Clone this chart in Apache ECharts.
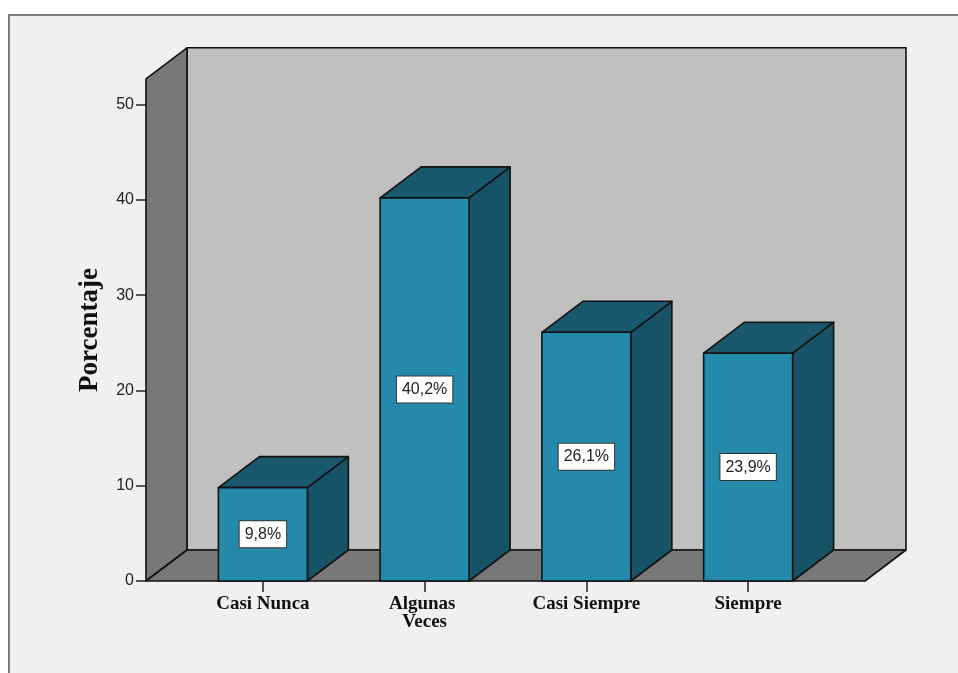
<!DOCTYPE html>
<html>
<head>
<meta charset="utf-8">
<script src="https://cdn.jsdelivr.net/npm/echarts@6/dist/echarts.min.js"></script>
<style>
  html, body { margin: 0; padding: 0; background: #ffffff; }
  #chart { width: 958px; height: 673px; }
</style>
</head>
<body>
<div id="chart"></div>
<script>
// Response categories and their percentages
const categories = ['Casi Nunca', 'Algunas Veces', 'Casi Siempre', 'Siempre'];
const percentages = [9.8, 40.2, 26.1, 23.9];

// Value axis
const axisMin = 0;
const axisMax = 50;
const axisInterval = 10;
const wallCeiling = 52.7;   // height of the 3D walls in axis units
const axisTitle = 'Porcentaje';

// 3D look
const depthX = 41;          // horizontal depth offset of the box, px
const depthY = 31;          // vertical depth offset of the box, px
const sideGap = 36;         // floor margin outside the category band, px
const barRatio = 0.55;      // bar width relative to category band

const frontColor = '#2489ab';
const topColor = '#1a586d';
const sideColor = '#175367';
const backWallColor = '#c0c0c0';
const sideWallColor = '#787878';
const edgeColor = '#111111';

const serif = '"Liberation Serif", "Times New Roman", serif';
const sans = '"Liberation Sans", Arial, sans-serif';

function fmtPercent(v) {
  return v.toFixed(1).replace('.', ',') + '%';
}

const chart = echarts.init(document.getElementById('chart'), null, { renderer: 'canvas' });

const edge = { stroke: edgeColor, lineWidth: 1.6, lineJoin: 'round' };

function renderWalls(params, api) {
  const cs = params.coordSys;
  const xL = cs.x - sideGap;
  const xR = cs.x + cs.width + sideGap;
  const yB = api.coord([0, 0])[1];
  const yT = api.coord([0, wallCeiling])[1];
  return {
    type: 'group',
    children: [
      {
        type: 'polygon',
        shape: { points: [[xL + depthX, yT - depthY], [xR + depthX, yT - depthY], [xR + depthX, yB - depthY], [xL + depthX, yB - depthY]] },
        style: Object.assign({ fill: backWallColor }, edge)
      },
      {
        type: 'polygon',
        shape: { points: [[xL, yT], [xL + depthX, yT - depthY], [xL + depthX, yB - depthY], [xL, yB]] },
        style: Object.assign({ fill: sideWallColor }, edge)
      },
      {
        type: 'polygon',
        shape: { points: [[xL, yB], [xL + depthX, yB - depthY], [xR + depthX, yB - depthY], [xR, yB]] },
        style: Object.assign({ fill: sideWallColor }, edge)
      }
    ]
  };
}

function renderBar(params, api) {
  const idx = api.value(0);
  const val = api.value(1);
  const top = api.coord([idx, val]);
  const base = api.coord([idx, 0]);
  const band = api.size([1, 0])[0];
  const w = band * barRatio;
  const x0 = top[0] - w / 2;
  const x1 = top[0] + w / 2;
  const yT = top[1];
  const yB = base[1];
  return {
    type: 'group',
    children: [
      {
        type: 'polygon',
        shape: { points: [[x1, yT], [x1 + depthX, yT - depthY], [x1 + depthX, yB - depthY], [x1, yB]] },
        style: Object.assign({ fill: sideColor }, edge)
      },
      {
        type: 'polygon',
        shape: { points: [[x0, yT], [x0 + depthX, yT - depthY], [x1 + depthX, yT - depthY], [x1, yT]] },
        style: Object.assign({ fill: topColor }, edge)
      },
      {
        type: 'rect',
        shape: { x: x0, y: yT, width: w, height: yB - yT },
        style: Object.assign({ fill: frontColor }, edge)
      },
      {
        type: 'text',
        x: top[0],
        y: (yT + yB) / 2,
        style: {
          text: fmtPercent(val),
          align: 'center',
          verticalAlign: 'middle',
          fontFamily: sans,
          fontSize: 16,
          lineHeight: 16,
          fill: '#222222',
          backgroundColor: '#ffffff',
          borderColor: '#333333',
          borderWidth: 1,
          padding: [5, 5, 5, 5]
        }
      }
    ]
  };
}

const option = {
  backgroundColor: '#ffffff',
  animation: false,
  graphic: [
    {
      type: 'rect',
      z: -10,
      shape: { x: 9, y: 15, width: 1000, height: 700 },
      style: { fill: '#f0f0f0', stroke: '#7c7c7c', lineWidth: 2 }
    },
    {
      type: 'text',
      x: 90,
      y: 330,
      rotation: Math.PI / 2,
      style: {
        text: axisTitle,
        align: 'center',
        verticalAlign: 'middle',
        fontFamily: serif,
        fontWeight: 'bold',
        fontSize: 27,
        fill: '#111111'
      }
    }
  ],
  grid: { left: 182, right: 129, top: 104.5, bottom: 92, containLabel: false },
  xAxis: {
    type: 'category',
    data: categories,
    boundaryGap: true,
    axisLine: { show: false },
    axisTick: { show: true, alignWithLabel: true, length: 11, lineStyle: { color: '#222', width: 1.5 } },
    axisLabel: {
      interval: 0,
      margin: 14,
      fontFamily: serif,
      fontWeight: 'bold',
      fontSize: 19,
      lineHeight: 18,
      color: '#111111',
      width: 112,
      overflow: 'break'
    },
    splitLine: { show: false }
  },
  yAxis: {
    type: 'value',
    min: axisMin,
    max: axisMax,
    interval: axisInterval,
    offset: sideGap,
    axisLine: { show: false },
    axisTick: { show: true, length: 10, lineStyle: { color: '#222', width: 1.5 } },
    axisLabel: { margin: 12, fontFamily: sans, fontSize: 16, color: '#222222' },
    splitLine: { show: false }
  },
  series: [
    {
      type: 'custom',
      clip: false,
      z: 1,
      renderItem: renderWalls,
      data: [[0, 0]]
    },
    {
      type: 'custom',
      clip: false,
      z: 2,
      renderItem: renderBar,
      encode: { x: 0, y: 1 },
      data: percentages.map((v, i) => [i, v])
    }
  ]
};

chart.setOption(option);
</script>
</body>
</html>
